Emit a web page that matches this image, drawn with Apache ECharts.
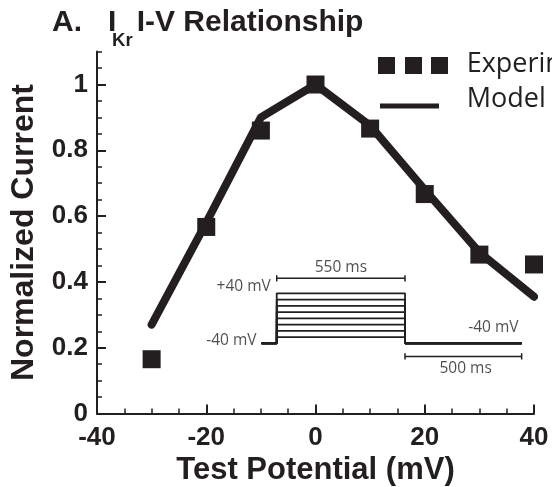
<!DOCTYPE html>
<html>
<head>
<meta charset="utf-8">
<script src="https://cdn.jsdelivr.net/npm/echarts@6/dist/echarts.min.js"></script>
<style>
html, body { margin: 0; padding: 0; background: #fff; }
#chart { width: 552px; height: 487px; }
</style>
</head>
<body>
<div id="chart"></div>
<script>
// I-V curve data
var testPotential = [-30, -20, -10, 0, 10, 20, 30, 40];
var experimental = [0.165, 0.567, 0.86, 1.0, 0.866, 0.667, 0.483, 0.453];
var modelPotential = [-30, -20, -10, 0, 10, 20, 30, 40];
var modelCurrent = [0.27, 0.58, 0.90, 1.0, 0.875, 0.68, 0.49, 0.355];
var xTicks = [-40, -20, 0, 20, 40];
var yTicks = [0, 0.2, 0.4, 0.6, 0.8, 1];

// voltage clamp protocol (inset)
var holdingMv = -40;
var stepLevels = [-30, -20, -10, 0, 10, 20, 30, 40];
var preMs = 65;
var stepMs = 550;
var tailMs = 500;
var protocolLabels = ['550 ms', '500 ms', '+40 mV', '-40 mV', '-40 mV'];

var ink = '#231f20';
var dom = document.getElementById('chart');
var myChart = echarts.init(dom, null, { renderer: 'canvas' });

function zip(xs, ys) {
    return xs.map(function (x, i) { return [x, ys[i]]; });
}

// one trace of the protocol: hold, step, back to hold
function stepTrace(v) {
    return [[-preMs, holdingMv], [0, holdingMv], [0, v], [stepMs, v],
            [stepMs, holdingMv], [stepMs + tailMs, holdingMv]];
}

// scale bar with small end caps
function scaleBar(t0, t1, v) {
    var c = 5;
    return [[t0, v - c], [t0, v + c], [t0, v], [t1, v], [t1, v + c], [t1, v - c]];
}

var insetSeries = stepLevels.map(function (v) {
    return {
        type: 'line', xAxisIndex: 2, yAxisIndex: 2, data: stepTrace(v),
        symbol: 'none', silent: true, animation: false,
        lineStyle: { color: ink, width: 1.8 }
    };
});

var barStep = 64, barTail = -61;
[[0, stepMs, barStep], [stepMs, stepMs + tailMs, barTail]].forEach(function (b) {
    insetSeries.push({
        type: 'line', xAxisIndex: 2, yAxisIndex: 2, data: scaleBar(b[0], b[1], b[2]),
        symbol: 'none', silent: true, animation: false,
        lineStyle: { color: ink, width: 1.5 }
    });
});

var insetFont = { fontFamily: 'Open Sans', fontSize: 15.5, color: ink };
function textPoint(t, v, text, pos, dist, off) {
    return {
        value: [t, v],
        label: Object.assign({ show: true, formatter: text, position: pos,
                               distance: dist, offset: off || [0, 0] }, insetFont)
    };
}
insetSeries.push({
    type: 'scatter', xAxisIndex: 2, yAxisIndex: 2, symbolSize: 0, silent: true,
    animation: false,
    data: [
        textPoint(stepMs / 2, barStep, protocolLabels[0], 'top', 3),
        textPoint(810, barTail, protocolLabels[1], 'bottom', 4),
        textPoint(0, stepLevels[stepLevels.length - 1], protocolLabels[2], 'left', 6, [0, -7]),
        textPoint(-preMs, holdingMv, protocolLabels[3], 'left', 5, [0, -3]),
        textPoint(929, holdingMv, protocolLabels[4], 'top', 8)
    ]
});

var boldAxis = { fontFamily: 'Liberation Sans', fontWeight: 'bold', color: ink };
var titleFont = 'bold 30px "Liberation Sans"';
var legendFont = '27px "Open Sans"';

var option = {
    animation: false,
    grid: [
        { left: 97, right: 18, top: 51.6, bottom: 73.5, outerBoundsMode: 'none' },
        { left: 253.4, top: 268.3, width: 279.9, height: 100, outerBoundsMode: 'none' }
    ],
    xAxis: [
        {
            gridIndex: 0, type: 'value', position: 'bottom', min: -40, max: 40, interval: 20,
            axisLine: { show: true, onZero: false, lineStyle: { color: ink, width: 2 } },
            axisTick: { show: true, inside: true, length: 9, lineStyle: { color: ink, width: 2 },
                        customValues: xTicks },
            axisLabel: Object.assign({ fontSize: 26, margin: 11, customValues: xTicks }, boldAxis),
            splitLine: { show: false },
            name: 'Test Potential (mV)', nameLocation: 'middle', nameGap: 34,
            nameTextStyle: Object.assign({ fontSize: 31 }, boldAxis)
        },
        {
            gridIndex: 0, type: 'value', position: 'bottom', min: -40, max: 40, interval: 5,
            axisLine: { show: false, onZero: false },
            axisTick: { show: true, inside: true, length: 5, lineStyle: { color: ink, width: 1.5 } },
            axisLabel: { show: false },
            splitLine: { show: false }
        },
        { gridIndex: 1, type: 'value', min: -100, max: 1100, show: false }
    ],
    yAxis: [
        {
            gridIndex: 0, type: 'value', position: 'left', min: 0, max: 1.1,
            axisLine: { show: true, onZero: false, lineStyle: { color: ink, width: 2 } },
            axisTick: { show: true, inside: true, length: 9, lineStyle: { color: ink, width: 2 },
                        customValues: yTicks },
            axisLabel: Object.assign({ fontSize: 26, margin: 9, customValues: yTicks }, boldAxis),
            splitLine: { show: false },
            name: 'Normalized Current', nameLocation: 'middle', nameGap: 57,
            nameTextStyle: Object.assign({ fontSize: 32 }, boldAxis)
        },
        {
            gridIndex: 0, type: 'value', position: 'left', min: 0, max: 1.1, interval: 0.05,
            axisLine: { show: false, onZero: false },
            axisTick: { show: true, inside: true, length: 5, lineStyle: { color: ink, width: 1.5 } },
            axisLabel: { show: false },
            splitLine: { show: false }
        },
        { gridIndex: 1, type: 'value', min: -80, max: 80, show: false }
    ],
    series: [
        {
            name: 'Model', type: 'line', xAxisIndex: 0, yAxisIndex: 0,
            data: zip(modelPotential, modelCurrent),
            symbol: 'none', z: 3,
            lineStyle: { color: ink, width: 8, cap: 'round', join: 'round' }
        },
        {
            name: 'Experimental', type: 'scatter', xAxisIndex: 0, yAxisIndex: 0,
            data: zip(testPotential, experimental),
            symbol: 'rect', symbolSize: 18, z: 4,
            itemStyle: { color: ink, opacity: 1 }
        }
    ].concat(insetSeries),
    graphic: [
        // title
        { type: 'text', x: 52, y: 23, style: { text: 'A.', font: titleFont, fill: ink, verticalAlign: 'middle' } },
        { type: 'text', x: 108, y: 23, style: { text: 'I', font: titleFont, fill: ink, verticalAlign: 'middle' } },
        { type: 'text', x: 112, y: 41, style: { text: 'Kr', font: 'bold 18.6px "Liberation Sans"', fill: ink, verticalAlign: 'middle' } },
        { type: 'text', x: 136.7, y: 23, style: { text: 'I-V Relationship', font: titleFont, fill: ink, verticalAlign: 'middle' } },
        // legend
        { type: 'rect', shape: { x: 378, y: 57, width: 17, height: 17 }, style: { fill: ink } },
        { type: 'rect', shape: { x: 405, y: 57, width: 17, height: 17 }, style: { fill: ink } },
        { type: 'rect', shape: { x: 431, y: 57, width: 17, height: 17 }, style: { fill: ink } },
        { type: 'text', x: 466.7, y: 64, style: { text: 'Experimental', font: legendFont, fill: ink, verticalAlign: 'middle' } },
        { type: 'line', shape: { x1: 380, y1: 106, x2: 439, y2: 106 }, style: { stroke: ink, lineWidth: 5 } },
        { type: 'text', x: 466.7, y: 99, style: { text: 'Model', font: legendFont, fill: ink, verticalAlign: 'middle' } }
    ]
};

myChart.setOption(option);
</script>
</body>
</html>
